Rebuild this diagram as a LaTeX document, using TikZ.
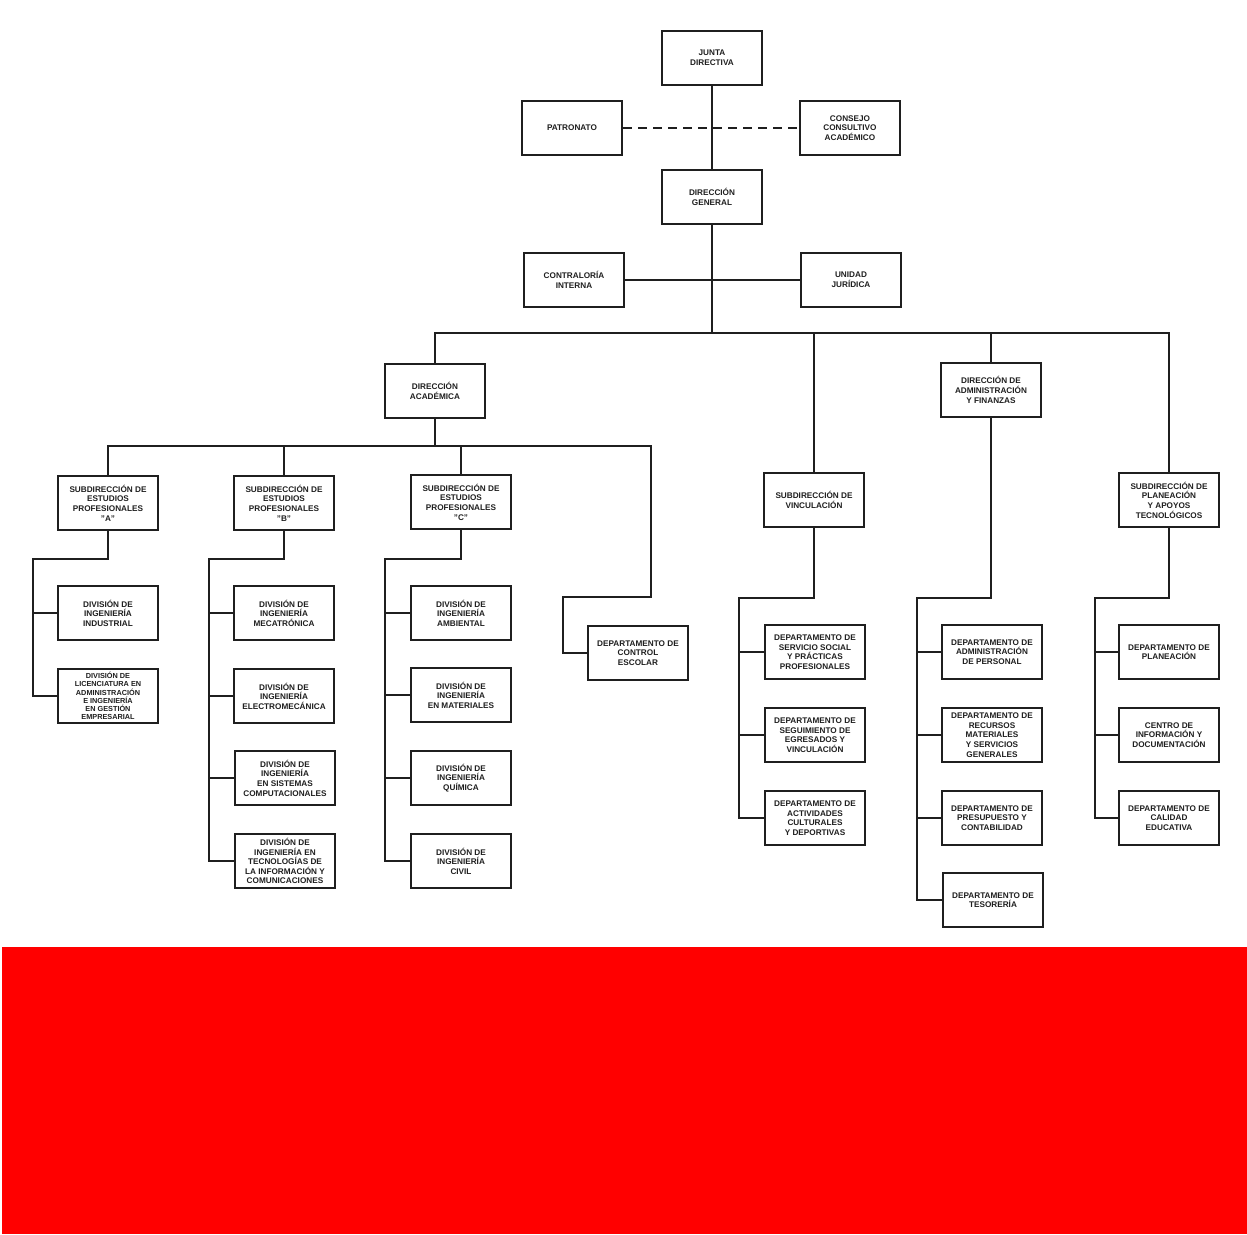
\documentclass[tikz,border=0pt]{standalone}
\usepackage{fontspec}
\setsansfont{Liberation Sans}
\usepackage{xcolor}
\definecolor{linecolor}{gray}{0.12}
\definecolor{bandcolor}{rgb}{1,0,0}

\begin{document}
\begin{tikzpicture}[x=1pt,y=-1pt,
    orgbox/.style={draw=linecolor,line width=2.4pt,fill=white,minimum width=100pt,
      minimum height=54pt,inner sep=1pt,align=center,text=linecolor,
      font=\sffamily\bfseries\fontsize{8.2}{9.6}\selectfont},
    tightbox/.style={orgbox,font=\sffamily\bfseries\fontsize{7.3}{8.3}\selectfont},
    link/.style={draw=linecolor,line width=1.7pt}]
  \useasboundingbox (0,0) rectangle (1247,1234);
  \fill[white] (0,0) rectangle (1247,1234);
  \fill[bandcolor] (2,947) rectangle (1247,1234);

  % top of the chart
  \node [orgbox] (junta) at (712,58) {JUNTA\\DIRECTIVA};
  \node [orgbox] (patronato) at (572,128) {PATRONATO};
  \node [orgbox] (consejo) at (850,128) {CONSEJO\\CONSULTIVO\\ACADÉMICO};
  \node [orgbox] (dirgen) at (712,197) {DIRECCIÓN\\GENERAL};
  \node [orgbox] (contraloria) at (574,280) {CONTRALORÍA\\INTERNA};
  \node [orgbox] (juridica) at (851,280) {UNIDAD\\JURÍDICA};

  % direcciones y subdirecciones
  \node [orgbox] (diracad) at (435,391) {DIRECCIÓN\\ACADÉMICA};
  \node [orgbox] (dirfin) at (991,390) {DIRECCIÓN DE\\ADMINISTRACIÓN\\Y FINANZAS};
  \node [orgbox] (subvinc) at (814,500) {SUBDIRECCIÓN DE\\VINCULACIÓN};
  \node [orgbox] (subplan) at (1169,500) {SUBDIRECCIÓN DE\\PLANEACIÓN\\Y APOYOS\\TECNOLÓGICOS};
  \node [orgbox] (subA) at (108,503) {SUBDIRECCIÓN DE\\ESTUDIOS\\PROFESIONALES\\"A"};
  \node [orgbox] (subB) at (284,503) {SUBDIRECCIÓN DE\\ESTUDIOS\\PROFESIONALES\\"B"};
  \node [orgbox] (subC) at (461,502) {SUBDIRECCIÓN DE\\ESTUDIOS\\PROFESIONALES\\"C"};

  % divisiones y departamentos
  \node [orgbox] (divind) at (108,613) {DIVISIÓN DE\\INGENIERÍA\\INDUSTRIAL};
  \node [tightbox] (divlic) at (108,696) {DIVISIÓN DE\\LICENCIATURA EN\\ADMINISTRACIÓN\\E INGENIERÍA\\EN GESTIÓN\\EMPRESARIAL};
  \node [orgbox] (divmec) at (284,613) {DIVISIÓN DE\\INGENIERÍA\\MECATRÓNICA};
  \node [orgbox] (divelec) at (284,696) {DIVISIÓN DE\\INGENIERÍA\\ELECTROMECÁNICA};
  \node [orgbox] (divsis) at (285,778) {DIVISIÓN DE\\INGENIERÍA\\EN SISTEMAS\\COMPUTACIONALES};
  \node [orgbox] (divtic) at (285,861) {DIVISIÓN DE\\INGENIERÍA EN\\TECNOLOGÍAS DE\\LA INFORMACIÓN Y\\COMUNICACIONES};
  \node [orgbox] (divamb) at (461,613) {DIVISIÓN DE\\INGENIERÍA\\AMBIENTAL};
  \node [orgbox] (divmat) at (461,695) {DIVISIÓN DE\\INGENIERÍA\\EN MATERIALES};
  \node [orgbox] (divqui) at (461,778) {DIVISIÓN DE\\INGENIERÍA\\QUÍMICA};
  \node [orgbox] (divciv) at (461,861) {DIVISIÓN DE\\INGENIERÍA\\CIVIL};
  \node [orgbox] (escolar) at (638,653) {DEPARTAMENTO DE\\CONTROL\\ESCOLAR};
  \node [orgbox] (depserv) at (815,652) {DEPARTAMENTO DE\\SERVICIO SOCIAL\\Y PRÁCTICAS\\PROFESIONALES};
  \node [orgbox] (depseg) at (815,735) {DEPARTAMENTO DE\\SEGUIMIENTO DE\\EGRESADOS Y\\VINCULACIÓN};
  \node [orgbox] (depact) at (815,818) {DEPARTAMENTO DE\\ACTIVIDADES\\CULTURALES\\Y DEPORTIVAS};
  \node [orgbox] (depper) at (992,652) {DEPARTAMENTO DE\\ADMINISTRACIÓN\\DE PERSONAL};
  \node [orgbox] (deprec) at (992,735) {DEPARTAMENTO DE\\RECURSOS\\MATERIALES\\Y SERVICIOS\\GENERALES};
  \node [orgbox] (deppre) at (992,818) {DEPARTAMENTO DE\\PRESUPUESTO Y\\CONTABILIDAD};
  \node [orgbox] (deptes) at (993,900) {DEPARTAMENTO DE\\TESORERÍA};
  \node [orgbox] (depplan) at (1169,652) {DEPARTAMENTO DE\\PLANEACIÓN};
  \node [orgbox] (centro) at (1169,735) {CENTRO DE\\INFORMACIÓN Y\\DOCUMENTACIÓN};
  \node [orgbox] (depcal) at (1169,818) {DEPARTAMENTO DE\\CALIDAD\\EDUCATIVA};

  % corners of the connectors
  \coordinate (busmain) at (712,333);
  \coordinate (busacad) at (435,446);
  \coordinate (escA) at (651,597);
  \coordinate (escB) at (563,597);
  \coordinate (ta) at (33,559);
  \coordinate (tb) at (209,559);
  \coordinate (tc) at (385,559);
  \coordinate (tv) at (739,598);
  \coordinate (tf) at (917,598);
  \coordinate (tp) at (1095,598);

  \path [link] (junta) -- (dirgen);
  \path [link,dash pattern=on 9pt off 6pt] (patronato) -- (consejo);
  \path [link] (contraloria) -- (juridica);
  \path [link] (dirgen) -- (busmain);
  \path [link] (diracad.north) |- (busmain) -| (subplan.north);
  \path [link] (busmain) -| (subvinc.north);
  \path [link] (busmain) -| (dirfin.north);
  \path [link] (diracad) -- (busacad);
  \path [link] (subA.north) |- (busacad) -| (escA) -- (escB) |- (escolar.west);
  \path [link] (subB.north) |- (busacad);
  \path [link] (subC.north) |- (busacad);
  % ramas de las subdirecciones
  \path [link] (subA.south) |- (ta) |- (divind.west);
  \path [link] (ta) |- (divlic.west);
  \path [link] (subB.south) |- (tb) |- (divmec.west);
  \path [link] (tb) |- (divelec.west);
  \path [link] (tb) |- (divsis.west);
  \path [link] (tb) |- (divtic.west);
  \path [link] (subC.south) |- (tc) |- (divamb.west);
  \path [link] (tc) |- (divmat.west);
  \path [link] (tc) |- (divqui.west);
  \path [link] (tc) |- (divciv.west);
  \path [link] (subvinc.south) |- (tv) |- (depserv.west);
  \path [link] (tv) |- (depseg.west);
  \path [link] (tv) |- (depact.west);
  \path [link] (dirfin.south) |- (tf) |- (depper.west);
  \path [link] (tf) |- (deprec.west);
  \path [link] (tf) |- (deppre.west);
  \path [link] (tf) |- (deptes.west);
  \path [link] (subplan.south) |- (tp) |- (depplan.west);
  \path [link] (tp) |- (centro.west);
  \path [link] (tp) |- (depcal.west);
\end{tikzpicture}
\end{document}
